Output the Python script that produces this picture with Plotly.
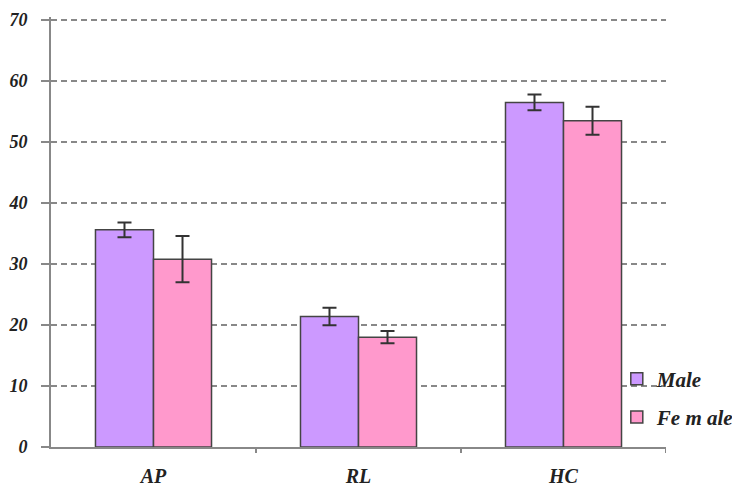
import plotly.graph_objects as go

categories = ["AP", "RL", "HC"]
male_values = [35.6, 21.4, 56.5]
male_errors = [1.2, 1.45, 1.3]
female_values = [30.8, 18.0, 53.5]
female_errors = [3.8, 1.0, 2.3]
y_ticks = [0, 10, 20, 30, 40, 50, 60, 70]

FAMILY = "Liberation Serif"
def f(size):
    return dict(family=FAMILY, size=size, color="#222222", weight="bold", style="italic")

fig = go.Figure()
fig.add_trace(go.Bar(
    x=categories, y=male_values, name="Male", legendgroup="m",
    marker=dict(color="#CC99FF", line=dict(color="#444444", width=1.5)),
    error_y=dict(type="data", array=male_errors, color="#333333", thickness=2, width=7),
))
fig.add_trace(go.Bar(
    x=categories, y=female_values, name="Fe m ale", legendgroup="f",
    marker=dict(color="#FF99CC", line=dict(color="#444444", width=1.5)),
    error_y=dict(type="data", array=female_errors, color="#333333", thickness=2, width=7),
))

fig.update_layout(
    width=732, height=489,
    margin=dict(l=51, r=66, t=17, b=42, autoexpand=False),
    paper_bgcolor="white", plot_bgcolor="white",
    barmode="group", bargap=0.434, bargroupgap=0,
    font=f(20),
    showlegend=True,
    legend=dict(x=0.92, y=0.2056, xanchor="left", yanchor="top",
                bgcolor="rgba(0,0,0,0)", font=f(21), tracegroupgap=8,
                itemwidth=30),
    xaxis=dict(
        range=[-0.5, 2.5], showline=True, linecolor="#888888", linewidth=2,
        ticks="", showgrid=False, tickfont=f(20), zeroline=False, automargin=False,
        ticklabelstandoff=10,
    ),
    yaxis=dict(
        range=[0, 70.5], tickvals=y_ticks, showline=True, linecolor="#888888", linewidth=2,
        ticks="outside", ticklen=8, tickcolor="#888888", tickwidth=2,
        showgrid=True, gridcolor="#888888", griddash="6px,4px", gridwidth=2,
        zeroline=False, tickfont=f(18), automargin=False, ticklabelstandoff=10,
    ),
)

# category boundary ticks on x axis
for b in [0.5, 1.5, 2.5]:
    fig.add_shape(type="line", xref="x", yref="paper", x0=b, x1=b, y0=0, y1=-0.014,
                  line=dict(color="#888888", width=2))

# blank the gridline behind the legend
fig.add_shape(type="rect", xref="paper", yref="y", x0=0.937, x1=1.01, y0=7, y1=13,
              fillcolor="white", line=dict(width=0), layer="between")

fig.write_html("out.html", config={"displayModeBar": False},
               post_script="document.body.style.margin='0';document.body.style.padding='0';")
